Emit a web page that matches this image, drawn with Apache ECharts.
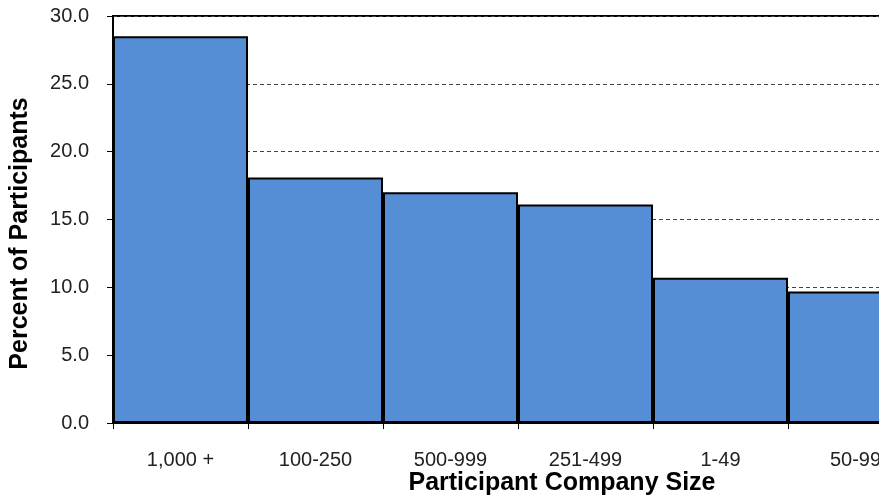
<!DOCTYPE html>
<html>
<head>
    <meta charset="utf-8">
    <title>Participant Company Size</title>
    <script src="https://cdn.jsdelivr.net/npm/echarts@6/dist/echarts.min.js"></script>
</head>
<body style="margin:0;background:#fff;">
    <div id="main" style="width: 879px;height:500px;"></div>

    <script type="text/javascript">
        // data
        var sizeCategories = ['1,000 +', '100-250', '500-999', '251-499', '1-49', '50-99'];
        var percentValues = [28.5, 18.1, 17.0, 16.1, 10.7, 9.7];
        var yTicks = { min: 0, max: 30, interval: 5 };

        var myChart = echarts.init(document.getElementById('main'));

        var option = {
            backgroundColor: '#fff',
            animation: false,
            textStyle: { fontFamily: 'Liberation Sans, Arial, sans-serif' },
            grid: {
                left: 113,
                top: 16,
                width: 810,
                height: 407,
                outerBoundsMode: 'none',
                containLabel: false,
                show: true,
                borderColor: '#000',
                borderWidth: 2
            },
            xAxis: {
                type: 'category',
                data: sizeCategories,
                boundaryGap: true,
                name: 'Participant Company Size',
                nameLocation: 'middle',
                nameGap: 48,
                nameMoveOverlap: false,
                nameTextStyle: {
                    fontSize: 25,
                    fontWeight: 'bold',
                    color: '#000',
                    padding: [0, 0, 0, 88]
                },
                axisLine: { lineStyle: { color: '#000', width: 2 } },
                axisTick: { show: true, length: 6, lineStyle: { color: '#000', width: 1 } },
                axisLabel: { fontSize: 20, color: '#222', margin: 27, interval: 0 }
            },
            yAxis: {
                type: 'value',
                min: yTicks.min,
                max: yTicks.max,
                interval: yTicks.interval,
                name: 'Percent of Participants',
                nameLocation: 'middle',
                nameGap: 80,
                nameMoveOverlap: false,
                nameTextStyle: {
                    fontSize: 25,
                    fontWeight: 'bold',
                    color: '#000',
                    padding: [0, 28, 0, 0]
                },
                axisLine: { show: true, lineStyle: { color: '#000', width: 2 } },
                axisTick: { show: true, length: 6, lineStyle: { color: '#000', width: 1 } },
                axisLabel: {
                    fontSize: 20,
                    color: '#222',
                    margin: 24,
                    formatter: function (v) { return v.toFixed(1); }
                },
                splitLine: {
                    show: true,
                    lineStyle: { color: '#444', width: 1, type: [4, 3] }
                }
            },
            series: [{
                type: 'bar',
                data: percentValues,
                barCategoryGap: 0,
                itemStyle: {
                    color: '#558ED5',
                    borderColor: '#000',
                    borderWidth: 2
                }
            }]
        };

        myChart.setOption(option);
    </script>
</body>
</html>
